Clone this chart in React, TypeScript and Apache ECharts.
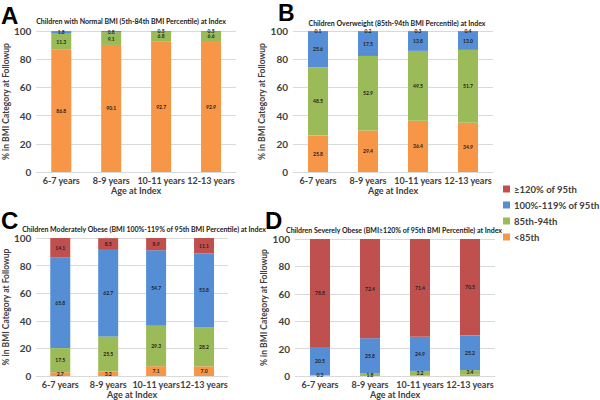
import React, { useEffect, useRef } from "react";
import * as echarts from "echarts";

const ageGroups = ["6-7 years", "8-9 years", "10-11 years", "12-13 years"];
const seriesNames = ["<85th", "85th-94th", "100%-119% of 95th", "≥120% of 95th"];
const legendOrder = ["≥120% of 95th", "100%-119% of 95th", "85th-94th", "<85th"];
const colors = ["#F79646", "#9BBB59", "#558ED5", "#C0504D"];
const yTicks = [0, 20, 40, 60, 80, 100];

// Panel A: Normal BMI at index
const aBelow85 = [86.8, 90.1, 92.7, 92.9];
const a85to94 = [11.3, 9.1, 6.8, 6.6];
const a100to119 = [1.8, 0.8, 0.5, 0.5];
const a120plus = [0.1, 0.0, 0.0, 0.0];
// Panel B: Overweight at index
const bBelow85 = [25.8, 29.4, 36.4, 34.9];
const b85to94 = [48.5, 52.9, 49.5, 51.7];
const b100to119 = [25.6, 17.5, 13.8, 13.0];
const b120plus = [0.1, 0.2, 0.3, 0.4];
// Panel C: Moderately obese at index
const cBelow85 = [2.7, 3.2, 7.1, 7.0];
const c85to94 = [17.5, 25.5, 29.3, 28.2];
const c100to119 = [65.8, 62.7, 54.7, 53.8];
const c120plus = [14.1, 8.5, 8.9, 11.1];
// Panel D: Severely obese at index
const dBelow85 = [0.4, 0.0, 0.5, 0.9];
const d85to94 = [0.3, 1.8, 3.2, 3.4];
const d100to119 = [20.5, 25.8, 24.9, 25.2];
const d120plus = [78.8, 72.4, 71.4, 70.5];

const panelTitles = [
  "Children with Normal BMI (5th-84th BMI Percentile) at Index",
  "Children Overweight (85th-94th BMI Percentile) at Index",
  "Children Moderately Obese (BMI 100%-119% of 95th BMI Percentile) at Index",
  "Children Severely Obese (BMI≥120% of 95th BMI Percentile) at Index",
];
const panelLetters = ["A", "B", "C", "D"];
const panelData = [
  [aBelow85, a85to94, a100to119, a120plus],
  [bBelow85, b85to94, b100to119, b120plus],
  [cBelow85, c85to94, c100to119, c120plus],
  [dBelow85, d85to94, d100to119, d120plus],
];
const yName = "% in BMI Category at Followup";
const xName = "Age at Index";

const FONT = "Lato, 'Open Sans', sans-serif";

export default function App() {
  const ref = useRef<HTMLDivElement>(null);
  useEffect(() => {
    if (!ref.current) return;
    const chart = echarts.init(ref.current, null, { renderer: "svg" });

    const grids = [
      { left: 33, top: 31, width: 203, height: 141 },
      { left: 293, top: 31, width: 200, height: 141 },
      { left: 34, top: 238, width: 194, height: 141 },
      { left: 295, top: 239, width: 200, height: 140 },
    ];
    const yNameGaps = [20, 24, 21, 24];
    const titleCenters = [
      { x: 126, y: 12 },
      { x: 392, y: 14 },
      { x: 139, y: 220 },
      { x: 389, y: 221 },
    ];
    const letterPos = [
      { x: 1, y: 3 },
      { x: 278, y: 1 },
      { x: 1, y: 208 },
      { x: 265, y: 208 },
    ];
    const hideLabel: Record<string, boolean> = { "0-3": true, "3-0": true };

    const series: any[] = [];
    panelData.forEach((arrs, p) => {
      arrs.forEach((vals, s) => {
        series.push({
          type: "bar",
          name: seriesNames[s],
          xAxisIndex: p,
          yAxisIndex: p,
          stack: "p" + p,
          barWidth: 20,
          data: vals,
          itemStyle: { color: colors[s] },
          label: {
            show: !hideLabel[p + "-" + s],
            position: "inside",
            fontSize: 5,
            fontFamily: FONT,
            fontWeight: "bold",
            color: "#222",
            formatter: (v: any) => (v.value > 0 ? v.value.toFixed(1) : ""),
          },
        });
      });
    });

    chart.setOption({
      animation: false,
      textStyle: { fontFamily: FONT },
      grid: grids,
      title: panelTitles.map((t, i) => ({
        text: t,
        left: titleCenters[i].x,
        top: titleCenters[i].y,
        textAlign: "center",
        textStyle: { fontSize: 7, fontWeight: "bold", color: "#222", fontFamily: FONT },
      })),
      legend: {
        orient: "vertical",
        left: 498,
        top: 179,
        itemWidth: 7,
        itemHeight: 7,
        itemGap: 6,
        icon: "rect",
        data: legendOrder,
        textStyle: { fontSize: 9.5, fontWeight: "bold", color: "#404040", fontFamily: FONT, padding: [0, 0, 0, -1] },
      },
      graphic: panelLetters.map((l, i) => ({
        type: "text",
        left: letterPos[i].x,
        top: letterPos[i].y,
        style: { text: l, fontSize: i === 1 ? 23 : 24, fontWeight: "bold", fill: "#000", fontFamily: "'Liberation Sans', Arial, sans-serif" },
      })),
      xAxis: grids.map((_, i) => ({
        type: "category",
        gridIndex: i,
        data: ageGroups,
        name: xName,
        nameLocation: "middle",
        nameGap: 14,
        nameTextStyle: { fontSize: 9, fontWeight: "bold", color: "#404040" },
        axisLine: { lineStyle: { color: "#D9D9D9" } },
        axisTick: { show: false },
        axisLabel: { fontSize: 9, fontWeight: "bold", color: "#404040", margin: 4, interval: 0 },
      })),
      yAxis: grids.map((_, i) => ({
        type: "value",
        gridIndex: i,
        min: 0,
        max: 100,
        interval: 20,
        name: yName,
        nameLocation: "middle",
        nameGap: yNameGaps[i],
        nameTextStyle: { fontSize: 8.5, fontWeight: "bold", color: "#404040" },
        axisLine: { show: false },
        axisTick: { show: false },
        splitLine: { lineStyle: { color: "#D9D9D9" } },
        axisLabel: {
          fontSize: 10,
          fontWeight: "bold",
          color: "#404040",
          margin: 5,
          formatter: (v: number) => (yTicks.includes(v) ? String(v) : ""),
        },
      })),
      series,
    });
    return () => chart.dispose();
  }, []);
  return (
    <div
      ref={ref}
      style={{ position: "fixed", left: 0, top: 0, width: 600, height: 400, background: "#fff" }}
    />
  );
}
